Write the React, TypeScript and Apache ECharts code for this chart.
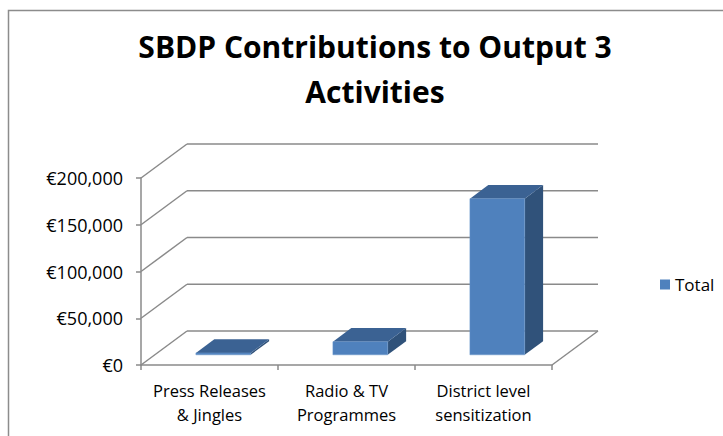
import React, { useEffect, useRef } from "react";
import * as echarts from "echarts";

const categories = ["Press Releases\n& Jingles", "Radio & TV\nProgrammes", "District level\nsensitization"];
const totals = [2000, 14000, 167000];
const yTicks = [0, 50000, 100000, 150000, 200000];
const seriesName = "Total";
const titleText = "SBDP Contributions to Output 3\nActivities";

const DX = 46;
const DY = -34;
const FONT = "'Open Sans', sans-serif";
const GRID_COLOR = "#8a8a8a";

export default function App() {
  const ref = useRef<HTMLDivElement>(null);
  useEffect(() => {
    if (!ref.current) return;
    const chart = echarts.init(ref.current, null, { renderer: "svg" });
    chart.setOption({
      animation: false,
      backgroundColor: "#ffffff",
      title: {
        text: titleText,
        left: 370,
        textAlign: "center",
        top: 19,
        textStyle: { fontFamily: FONT, fontWeight: "bold", fontSize: 30, lineHeight: 45, color: "#000" },
      },
      legend: {
        data: [{ name: seriesName, icon: "rect" }],
        left: 655,
        top: 271,
        itemWidth: 10,
        itemHeight: 10,
        itemGap: 6,
        textStyle: { fontFamily: FONT, fontSize: 17, color: "#000" },
      },
      graphic: [
        {
          type: "rect",
          shape: { x: 8.5, y: 10.5, width: 800, height: 500 },
          style: { fill: "none", stroke: "#8c8c8c", lineWidth: 1.5 },
          silent: true,
        },
      ],
      grid: { left: 141, right: 171, top: 178, bottom: 71 },
      xAxis: {
        type: "category",
        data: categories,
        axisLine: { show: true, lineStyle: { color: GRID_COLOR, width: 1.5 } },
        axisTick: { show: true, length: 5, lineStyle: { color: GRID_COLOR, width: 1.5 } },
        axisLabel: { fontFamily: FONT, fontSize: 16.5, lineHeight: 24, color: "#000", margin: 13, interval: 0 },
        splitLine: { show: false },
      },
      yAxis: {
        type: "value",
        min: 0,
        max: 200000,
        interval: 50000,
        axisLine: { show: true, lineStyle: { color: GRID_COLOR, width: 1.5 } },
        axisTick: { show: true, length: 5, lineStyle: { color: GRID_COLOR, width: 1.5 } },
        axisLabel: {
          fontFamily: FONT,
          fontSize: 18,
          color: "#000",
          margin: 18,
          formatter: (v: number) => "€" + v.toLocaleString("en-US"),
        },
        splitLine: { show: false },
      },
      series: [
        {
          type: "custom",
          name: "walls",
          silent: true,
          z: 1,
          data: yTicks.map((v) => [0, v]),
          encode: { x: 0, y: 1 },
          renderItem: (params: any, api: any) => {
            const v = api.value(1);
            const cs = params.coordSys;
            const y = api.coord([0, v])[1];
            const x0 = cs.x;
            const x1 = cs.x + cs.width;
            const style = { stroke: GRID_COLOR, lineWidth: 1.5, fill: "none" };
            const children: any[] = [
              { type: "line", shape: { x1: x0, y1: y, x2: x0 + DX, y2: y + DY }, style },
              { type: "line", shape: { x1: x0 + DX, y1: y + DY, x2: x1 + DX, y2: y + DY }, style },
            ];
            if (v === 0) {
              children.push({ type: "line", shape: { x1: x1, y1: y, x2: x1 + DX, y2: y + DY }, style });
            }
            return { type: "group", children };
          },
        },
        {
          type: "custom",
          name: seriesName,
          z: 5,
          itemStyle: { color: "#4F81BD" },
          data: totals.map((v, i) => [i, v]),
          encode: { x: 0, y: 1 },
          renderItem: (params: any, api: any) => {
            const idx = api.value(0);
            const v = api.value(1);
            const top = api.coord([idx, v]);
            const base = api.coord([idx, 0]);
            const band = api.size([1, 0])[0];
            const w = band * 0.4;
            const ox = DX * 0.3;
            const oy = DY * 0.3;
            const dx = DX * 0.4;
            const dy = DY * 0.4;
            const xa = top[0] - w / 2 + ox;
            const xb = xa + w;
            const yT = top[1] + oy;
            const yB = base[1] + oy;
            return {
              type: "group",
              children: [
                {
                  type: "polygon",
                  shape: { points: [[xb, yT], [xb + dx, yT + dy], [xb + dx, yB + dy], [xb, yB]] },
                  style: { fill: "#30527A" },
                },
                {
                  type: "polygon",
                  shape: { points: [[xa, yT], [xb, yT], [xb + dx, yT + dy], [xa + dx, yT + dy]] },
                  style: { fill: "#3B6293" },
                },
                {
                  type: "rect",
                  shape: { x: xa, y: yT, width: w, height: Math.max(yB - yT, 0.5) },
                  style: { fill: "#4F81BD", stroke: "#6b98cc", lineWidth: 0.5 },
                },
              ],
            };
          },
        },
      ],
    });
    return () => chart.dispose();
  }, []);
  return <div ref={ref} style={{ position: "fixed", left: 0, top: 0, width: 723, height: 436 }} />;
}
